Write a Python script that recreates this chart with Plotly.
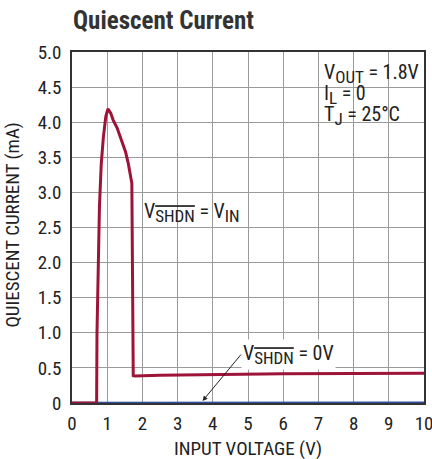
import plotly.graph_objects as go

# V_SHDN = V_IN curve
vin_on = [0, 0.70, 0.71, 0.74, 0.78, 0.83, 0.89, 0.96, 1.02, 1.10, 1.17, 1.28, 1.41, 1.52, 1.60, 1.70, 1.74, 1.78, 2.5, 4, 6, 8, 10]
iq_on = [0, 0, 1.0, 2.0, 2.8, 3.4, 3.78, 4.08, 4.19, 4.13, 4.03, 3.92, 3.75, 3.58, 3.41, 3.13, 0.39, 0.385, 0.395, 0.405, 0.415, 0.42, 0.425]
# V_SHDN = 0V curve
vin_off = [0, 2, 4, 6, 8, 10]
iq_off = [0.005, 0.005, 0.006, 0.006, 0.007, 0.007]

x_ticks = list(range(0, 11))
y_ticks = [0, 0.5, 1.0, 1.5, 2.0, 2.5, 3.0, 3.5, 4.0, 4.5, 5.0]
y_labels = ["0", "0.5", "1.0", "1.5", "2.0", "2.5", "3.0", "3.5", "4.0", "4.5", "5.0"]

conditions = ["V{OUT} = 1.8V", "I{L} = 0", "T{J} = 25°C"]
condition_y = [4.69, 4.39, 4.10]

font_family = "Liberation Sans Narrow, Roboto Condensed, Arial Narrow, Roboto, sans-serif"
grid = "rgb(155,155,155)"


def sub(text, overline=False):
    deco = "text-decoration:overline;" if overline else ""
    return f'<sub><span style="font-size:17px;{deco}">{text}</span></sub>'


fig = go.Figure()
fig.add_trace(go.Scatter(x=vin_off, y=iq_off, mode="lines", line=dict(color="#2f4f9f", width=2), showlegend=False))
fig.add_trace(go.Scatter(x=vin_on, y=iq_on, mode="lines", line=dict(color="#9e1438", width=3), showlegend=False))

fig.add_annotation(x=1.98, y=2.71, text=f"V{sub('SHDN', True)} = V{sub('IN')}", showarrow=False, xanchor="left", yanchor="middle", font=dict(size=20, color="#222"))
fig.add_annotation(x=3.71, y=0.03, ax=4.8, ay=0.69, axref="x", ayref="y", text=f"V{sub('SHDN', True)} = 0V", showarrow=True, arrowhead=2, arrowsize=1, arrowwidth=1, arrowcolor="#222", xanchor="left", yanchor="middle", font=dict(size=20, color="#222"), bgcolor="white")

# white box behind the test conditions
fig.add_shape(type="rect", x0=6.9, x1=9.97, y0=3.92, y1=4.93, xref="x", yref="y", fillcolor="white", line=dict(width=0), layer="below")
for label, yy in zip(conditions, condition_y):
    main, rest = label.split("{", 1)
    subtext, tail = rest.split("}", 1)
    fig.add_annotation(x=7.1, y=yy, text=f"{main}{sub(subtext)}{tail}", showarrow=False, xanchor="left", yanchor="middle", font=dict(size=20, color="#222"))

# axis titles
fig.add_annotation(x=-0.169, y=0.507, xref="paper", yref="paper", text="QUIESCENT CURRENT (mA)", textangle=-90, showarrow=False, xanchor="center", yanchor="middle", font=dict(size=19, color="#222"))
fig.add_annotation(x=0.5, y=-0.131, xref="paper", yref="paper", text="INPUT VOLTAGE (V)", showarrow=False, xanchor="center", yanchor="middle", font=dict(size=19, color="#222"))

fig.update_layout(
    width=432, height=459,
    paper_bgcolor="white", plot_bgcolor="white",
    font=dict(family=font_family, size=19, color="#222"),
    title=dict(text="<b>Quiescent Current</b>", x=73 / 432, xanchor="left", y=1 - 20 / 459, yanchor="middle", font=dict(size=25, color="#333")),
    margin=dict(l=72, r=8, t=52, b=56),
    xaxis=dict(range=[0, 10], tickvals=x_ticks, showgrid=True, gridcolor=grid, gridwidth=1, showline=True, linecolor="#333", linewidth=1.5, mirror=True, ticks="", ticklabelstandoff=2, ticklabeloverflow="allow", zeroline=False, automargin=False),
    yaxis=dict(range=[0, 5], tickvals=y_ticks, ticktext=y_labels, showgrid=True, gridcolor=grid, gridwidth=1, showline=True, linecolor="#333", linewidth=1.5, mirror=True, ticks="", ticklabelstandoff=5, zeroline=False, automargin=False),
)

fig.write_html("out.html", config={"displayModeBar": False}, post_script="document.body.style.margin='0';document.body.style.overflow='hidden';")
